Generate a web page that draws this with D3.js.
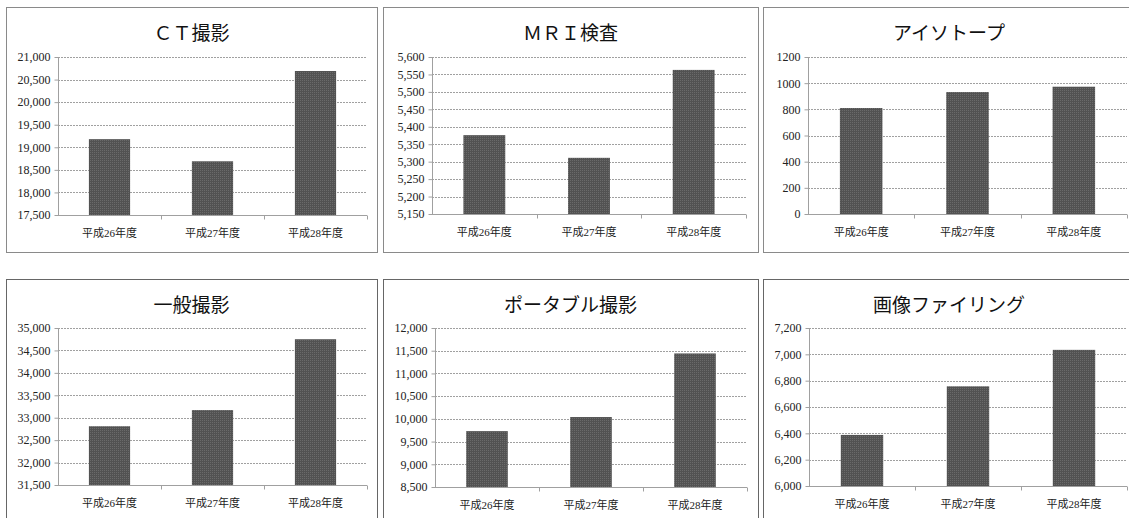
<!DOCTYPE html>
<html>
<head>
<meta charset="utf-8">
<script src="https://cdn.jsdelivr.net/npm/d3@7"></script>
<style>
  body { margin: 0; background: #fff; }
  svg { display: block; }
</style>
</head>
<body>
<svg id="charts" width="1129" height="518"></svg>
<script>
// data
const categories = ["平成26年度", "平成27年度", "平成28年度"];
const titles = ["ＣＴ撮影", "ＭＲＩ検査", "アイソトープ", "一般撮影", "ポータブル撮影", "画像ファイリング"];
const ctValues = [19180, 18690, 20690];
const mriValues = [5376, 5311, 5563];
const isotopeValues = [810, 932, 973];
const generalValues = [32810, 33170, 34750];
const portableValues = [9730, 10040, 11440];
const filingValues = [6388, 6757, 7034];
const yMins = [17500, 5150, 0, 31500, 8500, 6000];
const yMaxs = [21000, 5600, 1200, 35000, 12000, 7200];
const ySteps = [500, 50, 200, 500, 500, 200];
const useComma = [true, true, false, true, true, true];

const allValues = [ctValues, mriValues, isotopeValues, generalValues, portableValues, filingValues];

// panel frames and plot areas (page pixels)
const panels = [
  {bx: 6,   by: 7,   bw: 371, bh: 245, l: 58,  r: 367,  t: 57,  b: 215},
  {bx: 383, by: 7,   bw: 375, bh: 245, l: 432, r: 746,  t: 57,  b: 214},
  {bx: 763, by: 7,   bw: 372, bh: 245, l: 808, r: 1127, t: 57,  b: 214},
  {bx: 6,   by: 279, bw: 371, bh: 250, l: 58,  r: 367,  t: 328, b: 485},
  {bx: 383, by: 279, bw: 375, bh: 250, l: 435, r: 747,  t: 328, b: 487},
  {bx: 763, by: 279, bw: 372, bh: 250, l: 809, r: 1127, t: 328, b: 486}
];

const serif = '"Liberation Serif", "Noto Sans CJK JP", serif';
const svg = d3.select("#charts");

// dotted texture like the original bars
const pat = svg.append("defs").append("pattern")
  .attr("id", "barfill").attr("width", 2).attr("height", 2)
  .attr("patternUnits", "userSpaceOnUse");
pat.append("rect").attr("width", 2).attr("height", 2).attr("fill", "#525252");
pat.append("rect").attr("width", 1).attr("height", 1).attr("fill", "#6a6a6a");

panels.forEach((p, i) => {
  const g = svg.append("g");

  g.append("rect")
    .attr("x", p.bx + 0.5).attr("y", p.by + 0.5)
    .attr("width", p.bw).attr("height", p.bh)
    .attr("fill", "#fff").attr("stroke", i < 3 ? "#8a8a8a" : "#666").attr("stroke-width", 1);

  g.append("text")
    .attr("x", p.bx + p.bw / 2).attr("y", p.by + 33)
    .attr("text-anchor", "middle")
    .style("font-family", serif).style("font-size", "19px").style("fill", "#111")
    .text(titles[i]);

  const x = d3.scaleBand().domain(categories).range([p.l, p.r]).paddingInner(0.6).paddingOuter(0.3);
  const y = d3.scaleLinear().domain([yMins[i], yMaxs[i]]).range([p.b, p.t]);
  const ticks = d3.range(yMins[i], yMaxs[i] + ySteps[i] / 2, ySteps[i]);
  const fmt = useComma[i] ? d3.format(",") : d3.format("d");

  // gridlines
  g.append("g").selectAll("line")
    .data(ticks.slice(1))
    .join("line")
    .attr("x1", p.l).attr("x2", p.r)
    .attr("y1", d => Math.round(y(d)) + 0.5).attr("y2", d => Math.round(y(d)) + 0.5)
    .attr("stroke", "#a0a0a0").attr("stroke-dasharray", "2,1");

  // y axis
  const yAxis = g.append("g")
    .attr("transform", `translate(${p.l + 0.5},0)`)
    .call(d3.axisLeft(y).tickValues(ticks).tickFormat(fmt).tickSize(4).tickPadding(4));
  yAxis.select(".domain").attr("stroke", "#a0a0a0").attr("d", `M0,${p.t}V${p.b}`);
  yAxis.selectAll(".tick line").attr("stroke", "#a0a0a0");
  yAxis.selectAll(".tick text")
    .style("font-family", serif).style("font-size", "12px").style("fill", "#222");

  // bars
  g.append("g").selectAll("rect")
    .data(allValues[i])
    .join("rect")
    .attr("x", (d, j) => x(categories[j]))
    .attr("y", d => y(d))
    .attr("width", x.bandwidth())
    .attr("height", d => y(yMins[i]) - y(d))
    .attr("fill", "url(#barfill)");

  // x axis baseline with ticks between categories
  const xb = Math.round(p.b) + 0.5;
  g.append("line")
    .attr("x1", p.l).attr("x2", p.r).attr("y1", xb).attr("y2", xb)
    .attr("stroke", "#a0a0a0");
  const bounds = d3.range(categories.length + 1).map(k => p.l + (p.r - p.l) * k / categories.length);
  g.append("g").selectAll("line")
    .data(bounds.slice(1))
    .join("line")
    .attr("x1", d => Math.round(d) + 0.5).attr("x2", d => Math.round(d) + 0.5)
    .attr("y1", xb).attr("y2", xb + 4)
    .attr("stroke", "#a0a0a0");

  g.append("g").selectAll("text")
    .data(categories)
    .join("text")
    .attr("x", d => x(d) + x.bandwidth() / 2)
    .attr("y", p.b + 22)
    .attr("text-anchor", "middle")
    .style("font-family", serif).style("font-size", "11px").style("fill", "#222")
    .text(d => d);
});
</script>
</body>
</html>
